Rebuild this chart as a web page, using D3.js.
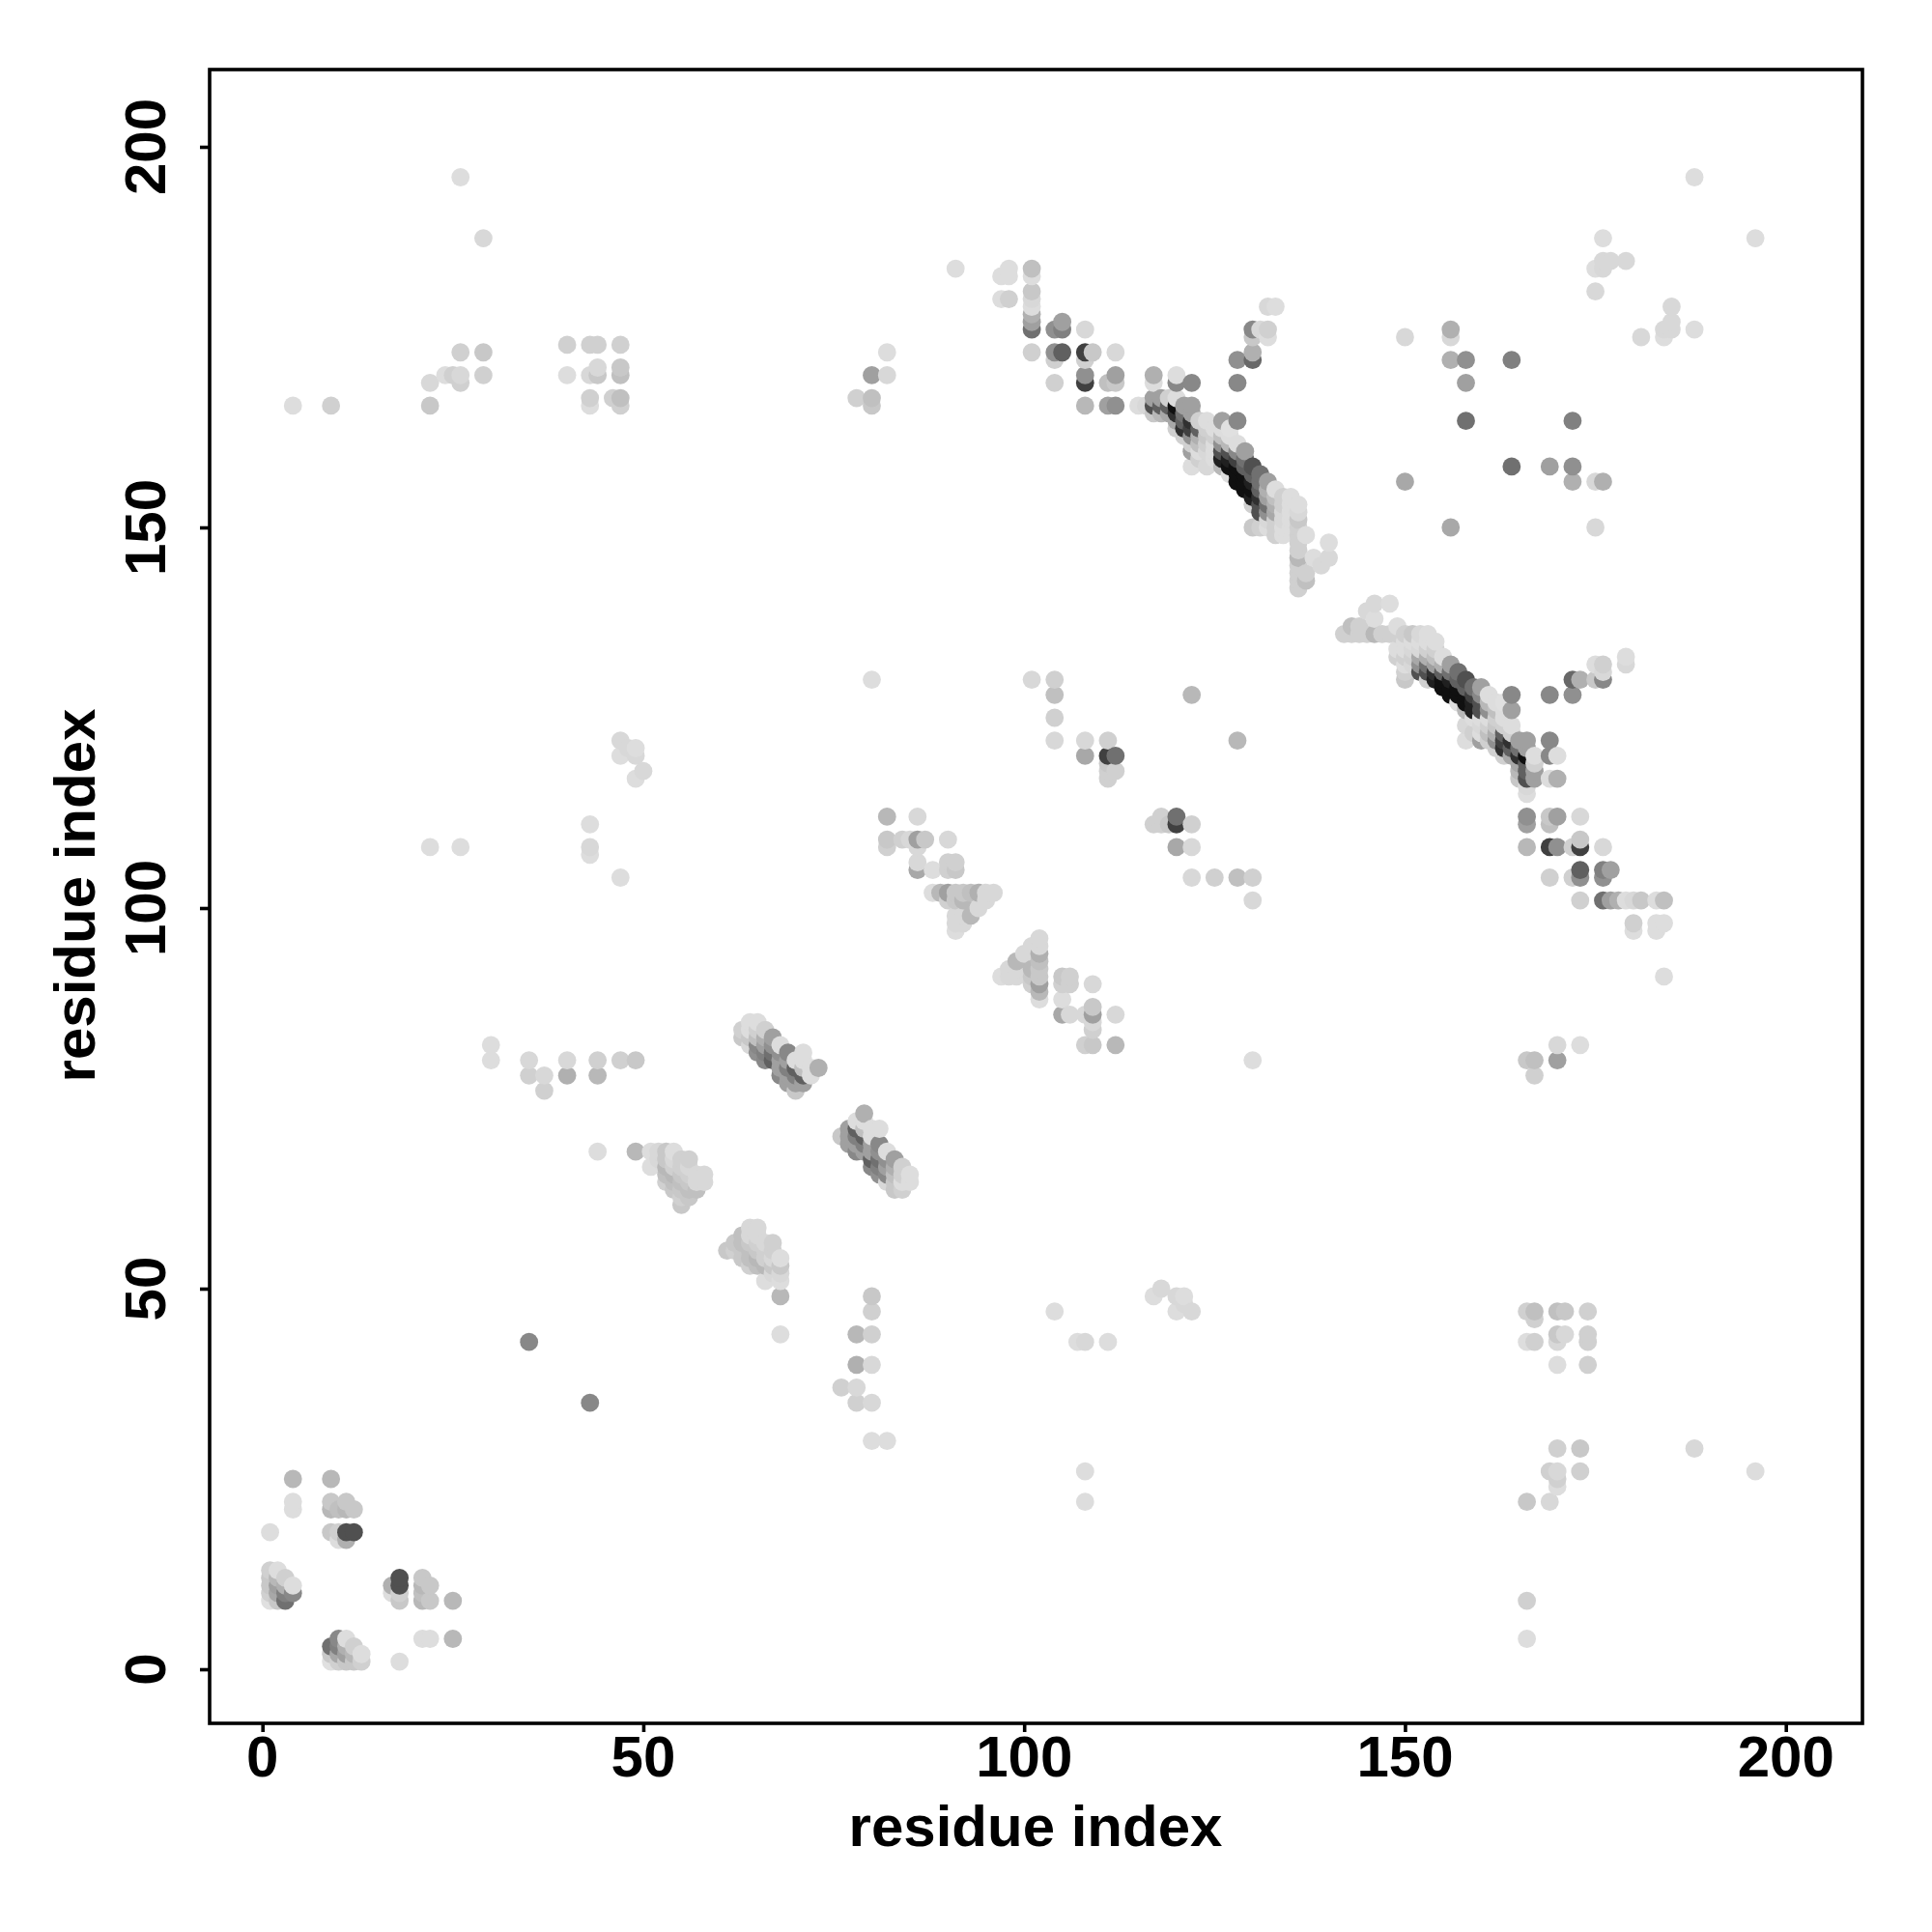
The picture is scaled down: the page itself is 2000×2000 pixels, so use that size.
<!DOCTYPE html>
<html><head><meta charset="utf-8">
<script src="https://cdn.jsdelivr.net/npm/d3@7/dist/d3.min.js"></script>
<style>html,body{margin:0;padding:0;background:#fff}svg{display:block}text{font-family:"Liberation Sans",Arial,sans-serif;font-weight:bold;fill:#000}</style>
</head><body><svg id="c" width="2000" height="2000"></svg>
<script>
const xTicks=[0,50,100,150,200], yTicks=[0,50,100,150,200];
const xTitle="residue index", yTitle="residue index";
// contacts: [residue i, residue j, grey shade]; the map is symmetric, i<j
const nTerminal=[[1,9,0xe0],[1,10,0xd0],[1,11,0xc8],[1,12,0xc8],[1,13,0xd0],[2,9,0xc8],[2,10,0xa8],[2,11,0xa0],[2,12,0xb8],[2,13,0xdd],[3,9,0x70],[3,10,0x80],[3,11,0xb0],[3,12,0xd0],[4,10,0x88],[4,11,0xdd],[1,18,0xdd],[4,21,0xdd],[4,22,0xdd],[4,25,0xb8],[9,18,0xc8],[10,18,0xd0],[11,18,0x50],[12,18,0x50],[10,17,0xdd],[11,17,0xb0],[9,21,0xb8],[10,21,0xc0],[11,21,0xb8],[12,21,0xc8],[9,22,0xc8],[11,22,0xc8],[9,25,0xb8],[35,43,0x88]];
const farLeft=[[4,166,0xdd],[9,166,0xd0],[22,166,0xc8],[22,169,0xd8],[24,170,0xdd],[25,170,0xd0],[26,169,0xd0],[26,170,0xd8],[26,173,0xd0],[29,173,0xc8],[29,170,0xd0],[26,196,0xdd],[29,188,0xd8],[22,108,0xdd],[26,108,0xdd]];
const block40=[[40,174,0xd0],[40,170,0xdd],[43,174,0xd0],[44,174,0xd0],[47,174,0xd0],[43,170,0xd8],[44,171,0xd8],[44,170,0xc8],[47,171,0xc8],[47,170,0xc0],[43,167,0xd0],[43,166,0xdd],[46,167,0xd0],[47,167,0xc0],[47,166,0xd0]];
const row80=[[30,82,0xdd],[30,80,0xdd],[35,80,0xd8],[35,78,0xd0],[37,78,0xd8],[37,76,0xd0],[40,80,0xd8],[40,78,0xb0],[44,80,0xd0],[44,78,0xb8],[47,80,0xd0],[49,80,0xc8],[44,68,0xdd],[49,68,0xb8]];
const row110=[[43,111,0xdd],[43,108,0xd8],[43,107,0xdd],[47,104,0xdd],[47,122,0xd8],[47,120,0xdd],[48,121,0xd8],[49,120,0xd8],[49,121,0xdd],[49,117,0xdd],[50,118,0xd8]];
const hairpin55=[[51,66,0xdd],[51,68,0xdd],[52,67,0xd8],[52,68,0xd8],[53,64,0xd0],[53,65,0xc0],[53,66,0xb8],[53,67,0xc8],[53,68,0xc8],[54,63,0xc8],[54,64,0xc0],[54,65,0xb8],[54,66,0xd0],[54,67,0xd8],[54,68,0xdd],[55,61,0xc8],[55,62,0xd0],[55,63,0xc8],[55,64,0xc0],[55,65,0xc8],[55,66,0xd0],[55,67,0xd0],[56,62,0xc8],[56,63,0xc0],[56,64,0xc8],[56,65,0xd0],[56,66,0xd8],[56,67,0xd0],[57,63,0xc0],[57,64,0xd8],[57,65,0xd8],[58,64,0xd8],[58,65,0xd8]];
const sheet65=[[63,84,0xd0],[63,83,0xc8],[64,85,0xdd],[64,84,0xdd],[64,83,0xc8],[64,82,0xd8],[65,85,0xdd],[65,84,0xd0],[65,83,0xc0],[65,82,0x88],[65,81,0x90],[66,84,0xd0],[66,83,0xb0],[66,82,0xa0],[66,81,0x80],[66,80,0x88],[67,83,0xa0],[67,82,0x90],[67,81,0x70],[67,80,0x60],[68,82,0xdd],[68,81,0x90],[68,80,0xa0],[68,79,0xa0],[68,78,0x88],[69,81,0x88],[69,80,0xa0],[69,79,0x80],[69,78,0xa0],[69,77,0xa0],[70,80,0xdd],[70,79,0x60],[70,78,0x80],[70,77,0xa0],[70,76,0xc8],[71,81,0xdd],[71,80,0xdd],[71,79,0xc0],[71,78,0x60],[71,77,0xa0],[72,79,0xdd],[72,78,0xdd],[73,79,0xb0]];
const col80=[[37,78,0xd0],[35,78,0xd0],[44,78,0xb8],[44,80,0xd8],[40,78,0xb0],[40,80,0xd8],[49,80,0xc8],[47,80,0xd8],[30,80,0xdd],[30,82,0xdd],[78,167,0xd0],[80,170,0xa0],[82,173,0xdd],[82,170,0xd8],[80,167,0xc0],[80,166,0xc8],[80,130,0xdd]];
const hairpin90=[[82,108,0xd0],[82,109,0xc8],[82,112,0xb8],[84,109,0xd0],[85,109,0xd8],[86,105,0xa8],[86,106,0xd8],[86,108,0xd8],[86,109,0xa0],[86,112,0xd8],[87,109,0xc8],[88,102,0xdd],[88,105,0xdd],[89,102,0xb8],[90,101,0xd0],[90,102,0xa0],[90,105,0xd0],[90,106,0xd0],[90,109,0xd8],[91,97,0xdd],[91,98,0xd8],[91,99,0xd8],[91,101,0xc8],[91,102,0xc8],[91,105,0xc8],[91,106,0xd0],[92,98,0xd8],[92,99,0xd8],[92,101,0xb8],[92,102,0xc8],[93,99,0xb8],[93,102,0xc0],[94,100,0xd8],[94,102,0xb0],[95,101,0xd8],[95,102,0xd8],[96,102,0xd8]];
const topBlock=[[91,184,0xdd],[97,183,0xdd],[98,184,0xdd],[98,183,0xdd],[97,180,0xdd],[98,180,0xd0],[101,184,0xc0],[101,183,0xdd],[101,181,0xc8],[101,180,0xd8],[101,179,0xdd],[101,178,0xb0],[101,177,0xa0],[101,176,0x70],[101,173,0xd0],[104,176,0x90],[105,177,0xa0],[105,176,0x80],[104,173,0x90],[104,172,0xd0],[105,173,0x60],[104,169,0xd0],[108,176,0xd8],[108,173,0x40],[109,173,0xc8],[108,172,0xd0],[108,170,0x90],[108,169,0x40],[108,166,0xb8],[111,169,0xc0],[112,173,0xd8],[112,170,0xa0],[112,169,0xc8],[111,166,0xa0],[112,166,0x90]];
const midBlock=[[101,130,0xd8],[104,130,0xd0],[104,128,0xc0],[104,125,0xd0],[104,122,0xd8],[108,122,0xd8],[108,120,0xa8],[111,122,0xd0],[111,120,0x40],[112,120,0x70],[111,118,0xd0],[111,119,0xc8],[111,117,0xd0],[112,118,0xd0],[122,128,0xb8]];
const mainBand=[[115,166,0xdd],[116,166,0xd8],[117,165,0xc8],[117,166,0x50],[117,167,0xa0],[117,169,0xdd],[117,170,0xb0],[118,165,0xb8],[118,166,0x60],[118,167,0xa0],[119,165,0xa8],[119,166,0x60],[119,167,0xd0],[120,163,0xd0],[120,164,0xa8],[120,165,0x30],[120,166,0x10],[120,167,0xdd],[120,169,0x88],[120,170,0xdd],[121,162,0xd0],[121,163,0x30],[121,164,0x60],[121,165,0x70],[121,166,0xa0],[122,158,0xdd],[122,160,0xa0],[122,161,0xd0],[122,162,0x90],[122,163,0x40],[122,164,0x30],[122,165,0xa0],[122,166,0xa0],[122,169,0x88],[123,159,0xd0],[123,160,0xdd],[123,161,0xc0],[123,162,0xb0],[123,163,0x60],[123,164,0xd0],[124,158,0xd8],[124,160,0xd8],[124,161,0xd0],[124,162,0xc8],[124,163,0xd0],[124,164,0xdd],[125,159,0xdd],[125,160,0xdd],[125,161,0xdd],[125,162,0xd0],[125,163,0xdd],[126,158,0xb8],[126,159,0x20],[126,160,0x50],[126,161,0x90],[126,162,0xc0],[126,163,0xdd],[126,164,0xa0],[127,157,0xdd],[127,158,0x10],[127,159,0x20],[127,160,0x50],[127,161,0xb8],[127,162,0xdd],[127,163,0xe0],[128,156,0x10],[128,157,0x10],[128,158,0x10],[128,159,0x40],[128,160,0x88],[128,161,0xdd],[128,164,0x88],[128,169,0x88],[128,172,0x90],[129,155,0x10],[129,156,0x10],[129,157,0x10],[129,158,0x60],[129,159,0x70],[129,160,0xa0],[130,150,0xc8],[130,153,0xd0],[130,154,0x20],[130,155,0x10],[130,156,0x20],[130,157,0x60],[130,158,0x50],[130,172,0x68],[130,173,0xb0],[130,175,0xc8],[130,176,0x88],[131,150,0xd0],[131,152,0x50],[131,153,0x50],[131,154,0x30],[131,155,0x60],[131,156,0x70],[131,157,0x70],[131,176,0xd8],[132,150,0xdd],[132,151,0xd8],[132,152,0x90],[132,153,0x70],[132,154,0xa0],[132,155,0xb0],[132,156,0xa0],[132,175,0xdd],[132,176,0xd0],[132,179,0xd8],[133,149,0xd0],[133,150,0xd0],[133,151,0xd0],[133,152,0xa8],[133,153,0xb0],[133,154,0xc0],[133,155,0xdd],[133,179,0xdd],[134,149,0xdd],[134,150,0xdd],[134,151,0xd8],[134,152,0xd8],[134,153,0xd0],[134,154,0xd0],[135,150,0xdd],[135,151,0xdd],[135,152,0xdd],[135,153,0xdd],[135,154,0xdd],[136,142,0xd0],[136,143,0xd0],[136,144,0xd0],[136,145,0xd0],[136,146,0xb8],[136,147,0xd0],[136,148,0xd0],[136,149,0xd0],[136,150,0xd0],[136,151,0xc8],[136,152,0xd8],[136,153,0xdd],[137,143,0xc0],[137,144,0xd0],[137,149,0xdd],[138,146,0xdd],[139,145,0xd8],[140,146,0xd8],[140,148,0xdd]];
const rightBlock=[[150,156,0xa8],[150,175,0xd8],[156,176,0xb0],[156,175,0xd8],[156,172,0xb0],[158,172,0x90],[158,169,0xa0],[158,164,0x70],[164,172,0x80],[175,181,0xd8],[176,184,0xd8],[176,185,0xd8],[176,188,0xdd],[177,185,0xd8],[179,185,0xd8],[188,196,0xdd],[175,184,0xdd],[150,133,0xd8],[184,91,0xd8]];

const x=d3.scaleLinear().domain([0,200]).range([271.7,1848.7]);
const y=d3.scaleLinear().domain([0,200]).range([1728,152]);
const svg=d3.select("#c");
const all=[nTerminal,farLeft,block40,row80,row110,hairpin55,sheet65,col80,hairpin90,topBlock,midBlock,mainBand,rightBlock].flat();
const seen=new Map();
all.forEach(([i,j,g])=>{ if(!seen.has(i+","+j)) seen.set(i+","+j,[i,j,g]); if(!seen.has(j+","+i)) seen.set(j+","+i,[j,i,g]); });
const pts=Array.from(seen.values()).sort((a,b)=>d3.ascending(a[0],b[0])||d3.ascending(a[1],b[1]));
svg.append("g").selectAll("circle").data(pts).join("circle")
 .attr("cx",d=>x(d[0])).attr("cy",d=>y(d[1])).attr("r",9.4)
 .attr("fill",d=>d3.rgb(d[2],d[2],d[2]).formatHex());
svg.append("rect").attr("x",217).attr("y",72).attr("width",1711).attr("height",1712).attr("fill","none").attr("stroke","#000").attr("stroke-width",3.6);
const xa=svg.append("g").attr("transform","translate(0,1784)").call(d3.axisBottom(x).tickValues(xTicks).tickSize(9).tickPadding(0));
const ya=svg.append("g").attr("transform","translate(217,0)").call(d3.axisLeft(y).tickValues(yTicks).tickSize(10));
[xa,ya].forEach(a=>{a.select(".domain").remove();a.selectAll("line").attr("stroke","#000").attr("stroke-width",3.6);a.selectAll("text").remove();});
svg.selectAll(".xl").data(xTicks).join("text").attr("x",d=>x(d)).attr("y",1839).attr("text-anchor","middle").attr("font-size",60).text(d=>d);
svg.selectAll(".yl").data(yTicks).join("text").attr("transform",d=>`translate(171,${y(d)}) rotate(-90)`).attr("text-anchor","middle").attr("font-size",60).text(d=>d);
svg.append("text").attr("x",1072).attr("y",1911).attr("text-anchor","middle").attr("font-size",60).text(xTitle);
svg.append("text").attr("transform","translate(98,927) rotate(-90)").attr("text-anchor","middle").attr("font-size",60).text(yTitle);
</script></body></html>
